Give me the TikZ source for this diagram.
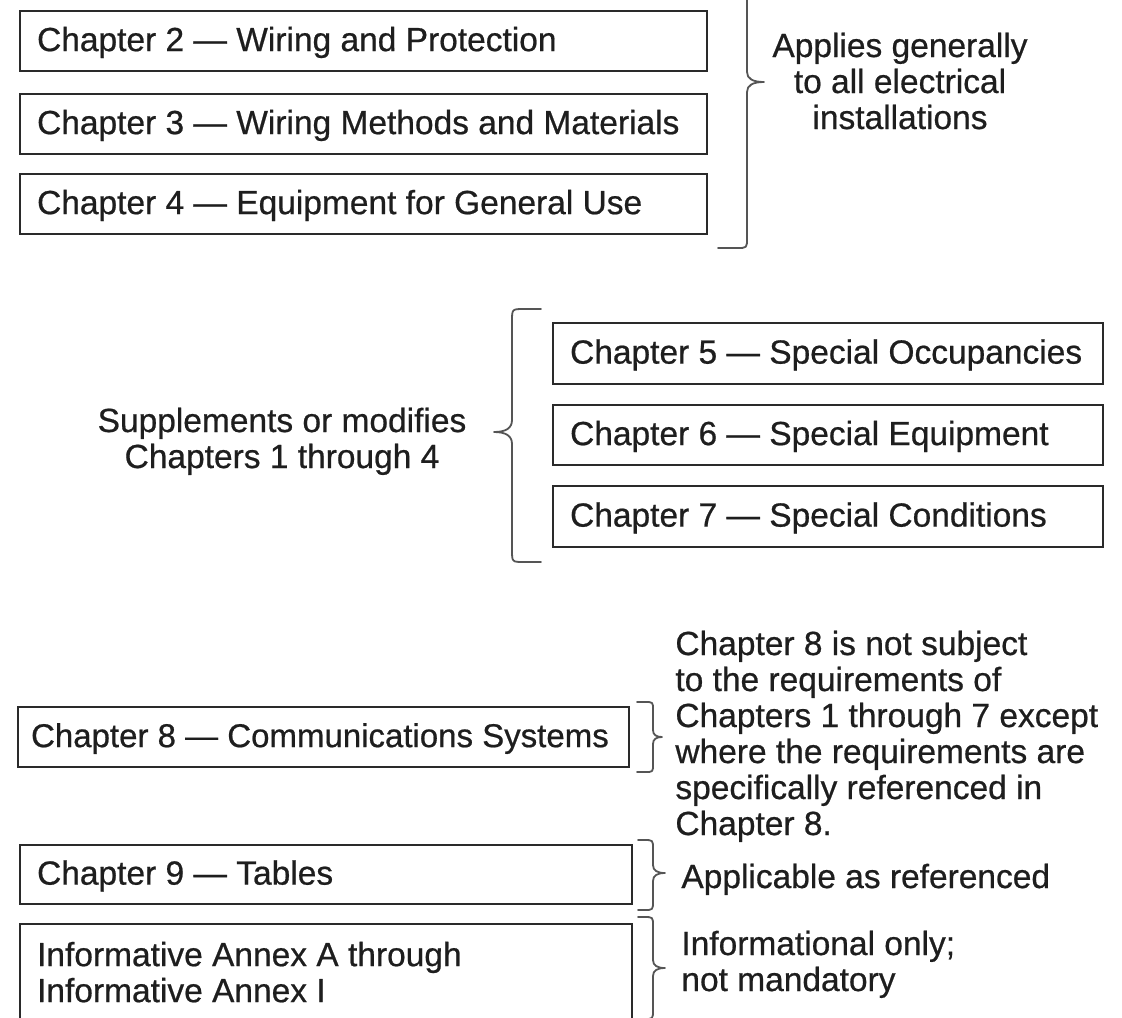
\documentclass[tikz,border=0pt]{standalone}
\usepackage{fontspec}
\setmainfont{Liberation Sans}[FakeBold=0.6]
\definecolor{ink}{HTML}{1E1E1E}
\definecolor{boxline}{HTML}{2A2A2A}
\definecolor{braceline}{HTML}{555555}
\newcommand\lblock[1]{\vtop{\baselineskip=18pt\lineskiplimit=-20pt\halign{##\hfil\cr#1\crcr}}}
\newcommand\cblock[1]{\vtop{\baselineskip=18pt\lineskiplimit=-20pt\halign{\hfil##\hfil\cr#1\crcr}}}
% right-pointing brace: hook shaft tip top ytip bottom cornerradius tipd
\newcommand\rbr[8]{%
  \draw[bracestroke] (#1,#4) -- ({#2-#7},#4) .. controls (#2,#4) .. (#2,{#4+#7})
    -- (#2,{#5-#8}) .. controls (#2,{#5-#8/3}) and ({#2+(#3-#2)/3},#5) .. (#3,#5)
    .. controls ({#2+(#3-#2)/3},#5) and (#2,{#5+#8/3}) .. (#2,{#5+#8})
    -- (#2,{#6-#7}) .. controls (#2,#6) .. ({#2-#7},#6) -- (#1,#6);}
% left-pointing brace
\newcommand\lbr[8]{%
  \draw[bracestroke] (#1,#4) -- ({#2+#7},#4) .. controls (#2,#4) .. (#2,{#4+#7})
    -- (#2,{#5-#8}) .. controls (#2,{#5-#8/3}) and ({#2+(#3-#2)/3},#5) .. (#3,#5)
    .. controls ({#2+(#3-#2)/3},#5) and (#2,{#5+#8/3}) .. (#2,{#5+#8})
    -- (#2,{#6-#7}) .. controls (#2,#6) .. ({#2+#7},#6) -- (#1,#6);}
\begin{document}
\begin{tikzpicture}[x=0.5pt,y=-0.5pt,
  every node/.style={text=ink, font=\fontsize{16.75}{18}\selectfont},
  chbox/.style={draw=boxline, line width=1.1pt, rectangle, anchor=north west,
    inner xsep=8.5pt, inner ysep=0pt, text height=13pt, text depth=3pt},
  plain/.style={inner sep=0pt},
  bracestroke/.style={draw=braceline, line width=0.9pt, line cap=round, line join=round}]
\fill[white] (0,0) rectangle (1122,1017);
\useasboundingbox (0,0) rectangle (1122,1017);
\clip (0,0) rectangle (1122,1017);

% Chapters 2-4
\node[chbox, minimum width=343.5pt, minimum height=30pt] (ch2) at (19,10)
  {\makebox[326.5pt][l]{Chapter 2 — Wiring and Protection}};
\node[chbox, minimum width=343.5pt, minimum height=30pt] (ch3) at (19,93)
  {\makebox[326.5pt][l]{Chapter 3 — Wiring Methods and Materials}};
\node[chbox, minimum width=343.5pt, minimum height=30pt] (ch4) at (19,173)
  {\makebox[326.5pt][l]{Chapter 4 — Equipment for General Use}};
\rbr{718}{747}{764}{-84}{82}{248}{10}{10}
\node[plain, anchor=base] (gen) at (900,57)
  {\cblock{Applies generally\cr to all electrical\cr installations}};

% Chapters 5-7
\node[chbox, minimum width=275pt, minimum height=30.5pt] (ch5) at (552,322)
  {\makebox[258pt][l]{Chapter 5 — Special Occupancies}};
\node[chbox, minimum width=275pt, minimum height=30pt] (ch6) at (552,404)
  {\makebox[258pt][l]{Chapter 6 — Special Equipment}};
\node[chbox, minimum width=275pt, minimum height=30.5pt] (ch7) at (552,485)
  {\makebox[258pt][l]{Chapter 7 — Special Conditions}};
\lbr{541}{512}{494}{309}{432}{562}{12}{12}
\node[plain, anchor=base] (supp) at (282,432)
  {\cblock{Supplements or modifies\cr Chapters 1 through 4}};

% Chapter 8
\node[chbox, minimum width=305.5pt, minimum height=30pt, inner xsep=6.5pt,
  font=\fontsize{16.5}{18}\selectfont] (ch8) at (17,706)
  {\makebox[292.5pt][l]{Chapter 8 — Communications Systems}};
\rbr{637}{653}{662}{702}{737}{772}{8}{7}
\node[plain, anchor=base west] (note8) at (675,655)
  {\lblock{Chapter 8 is not subject\cr to the requirements of\cr Chapters 1 through 7 except\cr where the requirements are\cr specifically referenced in\cr Chapter 8.}};

% Chapter 9
\node[chbox, minimum width=306pt, minimum height=29.5pt] (ch9) at (19,844)
  {\makebox[289pt][l]{Chapter 9 — Tables}};
\rbr{638}{653}{665}{840}{873}{910}{9}{8}
\node[plain, anchor=base west] (appl) at (681,888) {Applicable as referenced};

% Annexes
\node[chbox, minimum width=306pt, minimum height=50pt, text depth=21pt] (annex) at (19,923)
  {\makebox[289pt][l]{\lblock{Informative Annex A through\cr Informative Annex I}}};
\rbr{638}{653}{665}{917}{968}{1019}{9}{8}
\node[plain, anchor=base west] (info) at (681,955)
  {\lblock{Informational only;\cr not mandatory}};
\end{tikzpicture}
\end{document}
